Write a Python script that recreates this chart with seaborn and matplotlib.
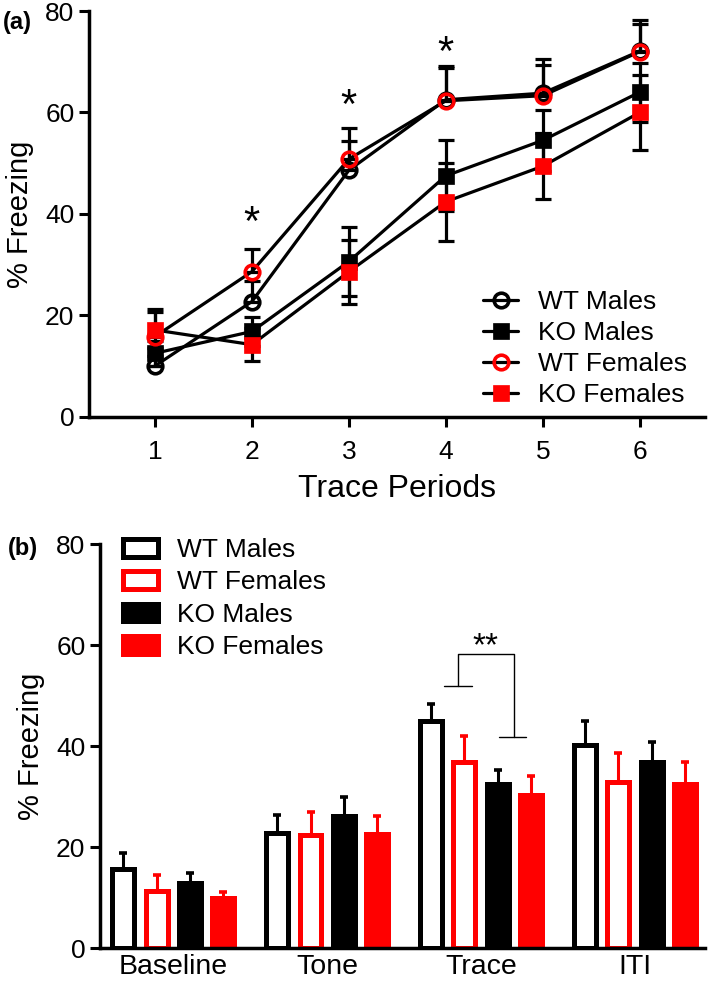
import matplotlib
matplotlib.use('Agg')
import matplotlib.pyplot as plt
import pandas as pd
import seaborn as sns

# (a) trace periods
periods = [1, 2, 3, 4, 5, 6]
wt_m = [10.0, 22.7, 48.6, 62.5, 63.8, 72.1]
wt_m_sem = [2.0, 4.0, 5.7, 6.7, 6.7, 6.1]
ko_m = [12.5, 16.8, 30.6, 47.5, 54.5, 64.0]
ko_m_sem = [2.5, 2.8, 6.9, 7.0, 6.0, 5.8]
wt_f = [15.8, 28.6, 50.8, 62.3, 63.3, 72.0]
wt_f_sem = [5.4, 4.4, 6.2, 6.5, 6.0, 5.5]
ko_f = [17.1, 14.2, 28.6, 42.4, 49.4, 60.0]
ko_f_sem = [3.5, 3.2, 6.3, 7.7, 6.5, 7.4]
star_periods = [2, 3, 4]
star_y = [39.8, 62.8, 73.4]

# (b) phases
phases = ['Baseline', 'Tone', 'Trace', 'ITI']
groups = ['WT Males', 'WT Females', 'KO Males', 'KO Females']
wt_m_b = [15.7, 22.9, 45.0, 40.3]
wt_m_b_sem = [3.2, 3.5, 3.3, 4.6]
wt_f_b = [11.3, 22.4, 36.8, 33.0]
wt_f_b_sem = [3.2, 4.5, 5.2, 5.7]
ko_m_b = [13.0, 26.2, 32.6, 36.9]
ko_m_b_sem = [1.85, 3.8, 2.7, 4.0]
ko_f_b = [9.9, 22.7, 30.4, 32.5]
ko_f_b_sem = [1.3, 3.4, 3.6, 4.3]

sns.set_style('ticks')
plt.rcParams['font.family'] = ['Liberation Sans', 'DejaVu Sans']
plt.rcParams.update({'text.color': 'black', 'axes.labelcolor': 'black',
                     'xtick.color': 'black', 'ytick.color': 'black',
                     'axes.edgecolor': 'black'})

RED = '#ff0000'
BLK = '#000000'

fig = plt.figure(figsize=(7.09, 9.85), dpi=100)
ax1 = fig.add_axes([0.1255, 0.577, 0.8685, 0.4118])
ax2 = fig.add_axes([0.141, 0.0373, 0.853, 0.4104])

# ---- panel (a)
series = [
    ('WT Males', wt_m, wt_m_sem, 'o', 'none', BLK, 'up'),
    ('KO Males', ko_m, ko_m_sem, 's', BLK, BLK, 'both'),
    ('WT Females', wt_f, wt_f_sem, 'o', 'none', RED, 'up'),
    ('KO Females', ko_f, ko_f_sem, 's', RED, RED, 'both'),
]
for name, y, sem, mk, mfc, mec, direction in series:
    lo = [0] * len(sem) if direction == 'up' else sem
    ax1.errorbar(periods, y, yerr=[lo, sem], fmt='none', ecolor=BLK,
                 elinewidth=2.3, capsize=5.5, capthick=2.3, zorder=2)
    sns.lineplot(x=periods, y=y, ax=ax1, color=BLK, lw=2.3, marker=mk,
                 markersize=10.5 if mk == 'o' else 11.5, mfc=mfc, mec=mec,
                 mew=2.6 if mk == 'o' else 0.5, label=name, zorder=3)

for xp, yp in zip(star_periods, star_y):
    ax1.text(xp, yp - 1.8, '*', ha='center', va='center', fontsize=30)

ax1.set_xlim(0.32, 6.67)
ax1.set_ylim(0, 80)
ax1.set_xticks(periods)
ax1.set_yticks([0, 20, 40, 60, 80])
ax1.set_xlabel('Trace Periods', fontsize=23, labelpad=7)
ax1.set_ylabel('% Freezing', fontsize=21, labelpad=8)
ax1.legend(loc='upper left', bbox_to_anchor=(483 / 709, 1 - 290 / 985),
           bbox_transform=fig.transFigure, frameon=False, fontsize=19,
           handlelength=1.33, handletextpad=0.75, labelspacing=0.27,
           borderpad=0, borderaxespad=0)

# ---- panel (b)
df = pd.DataFrame({
    'phase': phases * 4,
    'group': [g for g in groups for _ in phases],
    'freezing': wt_m_b + wt_f_b + ko_m_b + ko_f_b,
})
sems = [wt_m_b_sem, wt_f_b_sem, ko_m_b_sem, ko_f_b_sem]
styles = [('white', BLK), ('white', RED), (BLK, BLK), (RED, RED)]

sns.barplot(data=df, x='phase', y='freezing', hue='group', order=phases,
            hue_order=groups, width=0.866, gap=0.34, errorbar=None,
            legend=False, ax=ax2)
bar_sets = list(ax2.containers)

for cont, (face, edge), sem in zip(bar_sets, styles, sems):
    xs = []
    ys = []
    for p in cont:
        p.set_facecolor(face)
        p.set_edgecolor(edge)
        p.set_linewidth(3.6)
        xs.append(p.get_x() + p.get_width() / 2)
        ys.append(p.get_height())
    ax2.errorbar(xs, ys, yerr=[[0] * len(sem), sem], fmt='none', ecolor=edge,
                 elinewidth=2.2, capsize=2.8, capthick=2.6, zorder=3)

# significance bracket over Trace
bx = 2
ax2.plot([bx - 0.238, bx - 0.061], [51.9, 51.9], color=BLK, lw=1)
ax2.plot([bx - 0.147, bx - 0.147, bx + 0.216, bx + 0.216],
         [51.9, 58.3, 58.3, 41.9], color=BLK, lw=1)
ax2.plot([bx + 0.114, bx + 0.292], [41.9, 41.9], color=BLK, lw=1)
ax2.text(bx + 0.03, 59.6, '**', ha='center', va='center', fontsize=24)

ax2.set_xlim(-0.476, 3.453)
ax2.set_ylim(0, 80)
ax2.set_yticks([0, 20, 40, 60, 80])
ax2.set_xlabel('')
ax2.set_ylabel('% Freezing', fontsize=21, labelpad=8)
ax2.tick_params(axis='x', length=0, labelsize=20.5, pad=4)

handles = [c.patches[0] for c in bar_sets]
ax2.legend(handles, groups, loc='upper left',
           bbox_to_anchor=(123 / 709, 1 - 538 / 985),
           bbox_transform=fig.transFigure, frameon=False, fontsize=19,
           handlelength=1.33, handleheight=0.65, handletextpad=0.72,
           labelspacing=0.32, borderpad=0, borderaxespad=0)

for ax in (ax1, ax2):
    sns.despine(ax=ax)
    for s in ('left', 'bottom'):
        ax.spines[s].set_linewidth(2.5)
    ax.tick_params(axis='y', length=7, width=2.2, labelsize=19)
ax1.tick_params(axis='x', length=7, width=2.2, labelsize=19, pad=10)

fig.text(3 / 709, 1 - 23 / 985, '(a)', fontsize=17, fontweight='bold', va='center')
fig.text(8 / 709, 1 - 548 / 985, '(b)', fontsize=17, fontweight='bold', va='center')

fig.savefig('out.png', dpi=100)
